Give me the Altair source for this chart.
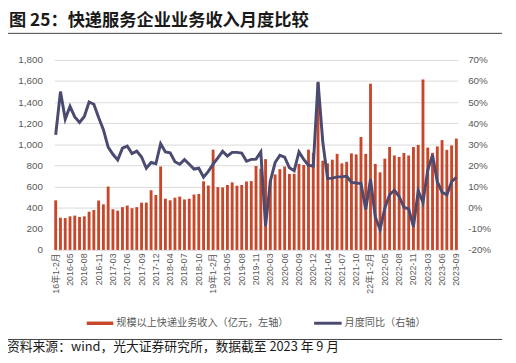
import altair as alt
import pandas as pd

# ---------------- data ----------------
categories = [
    "16年1-2月", "2016-03", "2016-04", "2016-05", "2016-06", "2016-07", "2016-08", "2016-09", "2016-10", "2016-11", "2016-12",
    "2017-02", "2017-03", "2017-04", "2017-05", "2017-06", "2017-07", "2017-08", "2017-09", "2017-10", "2017-11", "2017-12",
    "2018-02", "2018-03", "2018-04", "2018-05", "2018-06", "2018-07", "2018-08", "2018-09", "2018-10", "2018-11", "2018-12",
    "19年1-2月", "2019-03", "2019-04", "2019-05", "2019-06", "2019-07", "2019-08", "2019-09", "2019-10", "2019-11", "2019-12",
    "2020-02", "2020-03", "2020-04", "2020-05", "2020-06", "2020-07", "2020-08", "2020-09", "2020-10", "2020-11", "2020-12",
    "2021-02", "2021-03", "2021-04", "2021-05", "2021-06", "2021-07", "2021-08", "2021-09", "2021-10", "2021-11", "2021-12",
    "22年1-2月", "2022-03", "2022-04", "2022-05", "2022-06", "2022-07", "2022-08", "2022-09", "2022-10", "2022-11", "2022-12",
    "2023-02", "2023-03", "2023-04", "2023-05", "2023-06", "2023-07", "2023-08", "2023-09",
]

revenue = [
    470, 305, 302, 318, 325, 312, 318, 362, 378, 468, 432,
    600, 385, 372, 405, 420, 395, 405, 448, 448, 565, 520,
    790, 485, 470, 495, 505, 478, 485, 525, 530, 650, 610,
    950, 595, 592, 615, 640, 608, 615, 648, 652, 795, 770,
    860, 655, 715, 765, 790, 720, 722, 815, 805, 950, 920,
    1580, 845, 820, 855, 910, 820, 835, 915, 905, 1070, 910,
    1575, 815, 735, 865, 975, 895, 880, 918, 895, 975, 995,
    1615, 970, 920, 980, 1040, 948, 990, 1055,
]

yoy = [
    34.5, 55.0, 42.0, 48.0, 43.0, 40.4, 43.2, 50.1, 49.0, 42.7, 37.0,
    28.7, 25.3, 22.6, 28.2, 29.2, 25.6, 26.8, 24.0, 18.7, 21.4, 20.8,
    30.3, 26.4, 26.0, 21.8, 20.6, 22.8, 20.6, 18.3, 18.7, 14.5, 17.2,
    20.6, 23.6, 26.7, 24.5, 26.2, 26.2, 25.9, 22.0, 22.9, 23.0, 26.4,
    -8.7, 12.6, 21.4, 24.8, 23.9, 18.9, 17.5, 26.4, 22.9, 20.1, 19.7,
    59.6, 31.0, 13.9, 14.0, 14.6, 14.6, 15.0, 12.0, 11.7, 11.5, -0.9,
    13.6, -4.4, -10.3, -0.2, 6.1, 8.3, 5.3, 0.2, -0.6, -9.0, 8.0,
    2.5, 17.8, 25.0, 12.3, 7.3, 6.1, 12.3, 14.4,
]

tick_labels = [
    "16年1-2月", "2016-05", "2016-08", "2016-11", "2017-03", "2017-06", "2017-09", "2017-12",
    "2018-04", "2018-07", "2018-10", "19年1-2月", "2019-05", "2019-08", "2019-11", "2020-03",
    "2020-06", "2020-09", "2020-12", "2021-04", "2021-07", "2021-10", "22年1-2月", "2022-05",
    "2022-08", "2022-11", "2023-03", "2023-06", "2023-09",
]

left_ticks = [0, 200, 400, 600, 800, 1000, 1200, 1400, 1600, 1800]
right_ticks = [-20, -10, 0, 10, 20, 30, 40, 50, 60, 70]

title_text = "图 25：快递服务企业业务收入月度比较"
legend_bar = "规模以上快递业务收入（亿元，左轴）"
legend_line = "月度同比（右轴）"
source_text = "资料来源：wind，光大证券研究所，数据截至 2023 年 9 月"

df = pd.DataFrame({"month": categories, "revenue": revenue, "yoy": yoy})

# ---------------- styles ----------------
BAR_COLOR = "#C8472B"
LINE_COLOR = "#4B4B72"
GRAY = "#595959"
LATIN = "Liberation Sans, Noto Sans CJK SC, sans-serif"
CJK = "Noto Sans CJK SC"

x_enc = alt.X(
    "month:N",
    sort=categories,
    scale=alt.Scale(paddingInner=0.4, paddingOuter=0),
    axis=alt.Axis(
        values=tick_labels, labelAngle=270, labelFontSize=9, labelColor=GRAY,
        labelFont=LATIN, ticks=False, domain=False, labelPadding=3, title=None,
        grid=False,
    ),
)

bars = alt.Chart(df).mark_bar(color=BAR_COLOR).encode(
    x=x_enc,
    y=alt.Y(
        "revenue:Q",
        scale=alt.Scale(domain=[0, 1800], nice=False),
        axis=alt.Axis(
            values=left_ticks, format=",d", grid=True, gridColor="#D9D9D9", gridWidth=1,
            domain=False, ticks=False, labelPadding=12, labelFontSize=10,
            labelColor=GRAY, labelFont=LATIN, title=None,
        ),
    ),
)

line = alt.Chart(df).mark_line(color=LINE_COLOR, strokeWidth=3).encode(
    x=x_enc,
    y=alt.Y(
        "yoy:Q",
        scale=alt.Scale(domain=[-20, 70], nice=False),
        axis=alt.Axis(
            orient="right", values=right_ticks, labelExpr="datum.value + '%'",
            grid=False, domain=False, ticks=False, labelPadding=10, labelFontSize=10,
            labelColor=GRAY, labelFont=LATIN, title=None,
        ),
    ),
)

one = pd.DataFrame({"a": [0]})

title = alt.Chart(one).mark_text(
    text=title_text, font=CJK, fontSize=17.5, fontWeight="bold", color="#1A1A1A",
    align="left", baseline="middle",
).encode(x=alt.value(-46), y=alt.value(-39.5))

top_rule = alt.Chart(one).mark_rule(color="#404040", strokeWidth=1).encode(
    x=alt.value(-48), x2=alt.value(455), y=alt.value(-27)
)

bottom_rule = alt.Chart(one).mark_rule(color="#404040", strokeWidth=1).encode(
    x=alt.value(-48), x2=alt.value(455), y=alt.value(284)
)

source = alt.Chart(one).mark_text(
    text=source_text, font=CJK, fontSize=13, color="#1A1A1A",
    align="left", baseline="middle",
).encode(x=alt.value(-48), y=alt.value(292))

leg_bar_mark = alt.Chart(one).mark_rect(color=BAR_COLOR).encode(
    x=alt.value(33), x2=alt.value(60), y=alt.value(265.8), y2=alt.value(269.3)
)
leg_bar_text = alt.Chart(one).mark_text(
    text=legend_bar, font=CJK, fontSize=10.3, color=GRAY, align="left", baseline="middle",
).encode(x=alt.value(63), y=alt.value(267.5))

leg_line_mark = alt.Chart(one).mark_rule(color=LINE_COLOR, strokeWidth=3).encode(
    x=alt.value(264), x2=alt.value(292), y=alt.value(267.5)
)
leg_line_text = alt.Chart(one).mark_text(
    text=legend_line, font=CJK, fontSize=10.3, color=GRAY, align="left", baseline="middle",
).encode(x=alt.value(295), y=alt.value(267.5))

chart = (
    alt.layer(
        bars, line, title, top_rule, bottom_rule, source,
        leg_bar_mark, leg_bar_text, leg_line_mark, leg_line_text,
    )
    .resolve_scale(y="independent")
    .properties(
        width=410, height=193,
        padding={"left": 47, "top": 50, "right": 51, "bottom": 104},
        autosize=alt.AutoSizeParams(type="none"),
        background="white",
    )
    .configure_view(stroke=None)
)

chart.save("out.html", embed_options={"renderer": "svg", "actions": False})
